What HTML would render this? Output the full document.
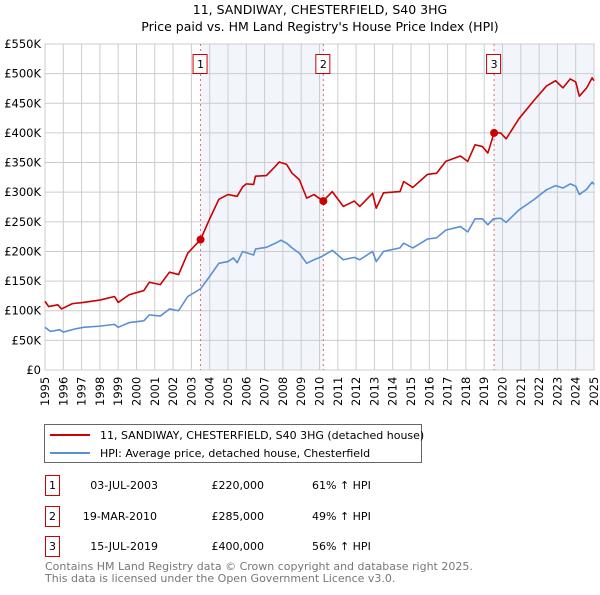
<!DOCTYPE html>
<html><head><meta charset="utf-8"><style>
body{margin:0;background:#fff;font-family:"Liberation Sans","DejaVu Sans",sans-serif}
svg text{font-family:"DejaVu Sans","Liberation Sans",sans-serif}
</style></head><body>
<svg id="chart" width="600" height="590" xmlns="http://www.w3.org/2000/svg">
<text x="320" y="14" text-anchor="middle" font-size="12.5">11, SANDIWAY, CHESTERFIELD, S40 3HG</text>
<text x="320" y="31" text-anchor="middle" font-size="12.5">Price paid vs. HM Land Registry's House Price Index (HPI)</text>
<g id="plot"></g>
<g>
<rect x="44.5" y="424.5" width="377" height="38" fill="#fff" stroke="#666"/>
<line x1="50" y1="435" x2="90" y2="435" stroke="#cc0000" stroke-width="2"/>
<text x="100" y="439" font-size="11">11, SANDIWAY, CHESTERFIELD, S40 3HG (detached house)</text>
<line x1="50" y1="453" x2="90" y2="453" stroke="#5b8fd4" stroke-width="2"/>
<text x="100" y="457" font-size="11">HPI: Average price, detached house, Chesterfield</text>
</g>
<g font-size="11">
<rect x="45.5" y="475.5" width="14" height="20" fill="#fff" stroke="#cc0000"/><text x="52.5" y="489" text-anchor="middle">1</text>
<text x="158" y="489" text-anchor="end">03-JUL-2003</text><text x="264" y="489" text-anchor="end">£220,000</text><text x="312" y="489">61% ↑ HPI</text>
<rect x="45.5" y="506.5" width="14" height="20" fill="#fff" stroke="#cc0000"/><text x="52.5" y="520" text-anchor="middle">2</text>
<text x="157" y="520" text-anchor="end">19-MAR-2010</text><text x="264" y="520" text-anchor="end">£285,000</text><text x="312" y="520">49% ↑ HPI</text>
<rect x="45.5" y="536.5" width="14" height="20" fill="#fff" stroke="#cc0000"/><text x="52.5" y="550" text-anchor="middle">3</text>
<text x="158" y="550" text-anchor="end">15-JUL-2019</text><text x="264" y="550" text-anchor="end">£400,000</text><text x="312" y="550">56% ↑ HPI</text>
</g>
<g font-size="11" fill="#777">
<text x="45" y="570">Contains HM Land Registry data © Crown copyright and database right 2025.</text>
<text x="45" y="582">This data is licensed under the Open Government Licence v3.0.</text>
</g>
</svg>
<script>
const hpiYears=[1995,1995.3,1995.8,1996,1996.6,1997.1,1998,1998.8,1999,1999.6,2000.4,2000.7,2001.3,2001.8,2002.3,2002.8,2003.5,2004,2004.5,2005,2005.3,2005.5,2005.8,2006.4,2006.5,2007.1,2007.6,2007.9,2008.2,2008.5,2008.9,2009.3,2009.7,2010.1,2010.7,2011.3,2011.9,2012.2,2012.9,2013.1,2013.5,2014.4,2014.6,2015.1,2015.9,2016.4,2016.9,2017.7,2018.1,2018.5,2018.9,2019.2,2019.5,2019.9,2020.2,2020.9,2021.7,2022.4,2022.9,2023.3,2023.7,2024,2024.2,2024.6,2024.9,2025];
const hpiValues=[72,65,68,64,69,72,74,77,72,80,83,93,91,103,100,124,137,158,180,183,189,181,200,194,204,207,214,219,214,206,197,180,186,191,202,186,190,186,200,183,200,206,214,206,221,223,236,242,233,255,255,245,255,256,249,270,287,304,311,307,314,310,296,305,317,313];
const priceYears=[1995,1995.2,1995.7,1995.9,1996.5,1997.1,1998,1998.8,1999,1999.6,2000.4,2000.7,2001.3,2001.8,2002.3,2002.8,2003.5,2004,2004.5,2005,2005.5,2005.8,2006,2006.4,2006.5,2007.1,2007.6,2007.8,2008.2,2008.5,2008.9,2009.3,2009.7,2010.2,2010.7,2011.3,2011.9,2012.2,2012.9,2013.1,2013.5,2014.4,2014.6,2015.1,2015.9,2016.4,2016.9,2017.7,2018.1,2018.5,2018.9,2019.2,2019.54,2019.9,2020.2,2020.9,2021.7,2022.4,2022.9,2023.3,2023.7,2024,2024.2,2024.6,2024.9,2025];
const priceValues=[116,107,110,103,112,114,118,124,114,127,134,148,144,165,161,197,220,255,288,296,293,309,314,313,327,328,344,351,347,332,321,290,296,285,301,276,285,276,298,273,299,301,318,308,330,332,352,361,352,380,377,366,400,400,390,424,454,479,488,476,491,486,462,476,493,488];
const saleYears=[2003.5,2010.21,2019.54];
const saleValues=[220,285,400];
const saleLabels=["1","2","3"];
const yTicks=[0,50,100,150,200,250,300,350,400,450,500,550];
const yTickLabels=["£0","£50K","£100K","£150K","£200K","£250K","£300K","£350K","£400K","£450K","£500K","£550K"];
const xTicks=[1995,1996,1997,1998,1999,2000,2001,2002,2003,2004,2005,2006,2007,2008,2009,2010,2011,2012,2013,2014,2015,2016,2017,2018,2019,2020,2021,2022,2023,2024,2025];

const NS="http://www.w3.org/2000/svg";
const L=45,R=594,T=44,B=370;
const sx=y=>L+(y-1995)/30*(R-L);
const sy=v=>B-v/550*(B-T);
const g=document.getElementById('plot');
function mk(tag,attrs,parent){const e=document.createElementNS(NS,tag);for(const k in attrs)e.setAttribute(k,attrs[k]);(parent||g).appendChild(e);return e;}
// shaded ownership periods
for(let i=0;i<saleYears.length;i++){
  const x1=sx(saleYears[i]),x2=i+1<saleYears.length?sx(saleYears[i+1]):R;
  if(i===1)continue;
  const r=mk('rect',{x:x1,y:T,width:x2-x1,height:B-T,fill:'#edf2fb',opacity:0.7});
  
  
}
// grid
yTicks.forEach((v,i)=>{
  const l=mk('line',{x1:L,x2:R,y1:sy(v),y2:sy(v),stroke:'#ccc'});
  
  
  const t=mk('text',{x:L-4,y:sy(v)+4,'text-anchor':'end','font-size':11.5});
  t.textContent=yTickLabels[i];
  
  
});
xTicks.forEach(y=>{
  const l=mk('line',{x1:sx(y),x2:sx(y),y1:T,y2:B,stroke:'#ccc'});
  
  
  const t=mk('text',{x:0,y:0,'font-size':11.5,transform:`translate(${sx(y)+4},${B+36}) rotate(-90)`});
  t.textContent=y;
  
  
});
mk('rect',{x:L,y:T,width:R-L,height:B-T,fill:'none',stroke:'#ccc'});
// sale vlines
saleYears.forEach((y,i)=>{
  const l=mk('line',{x1:sx(y),x2:sx(y),y1:T,y2:B,stroke:'#e66','stroke-dasharray':'2,3'});
  
  
  const r=mk('rect',{x:sx(y)-7.5,y:54.5,width:14,height:19,fill:'#fff',stroke:'#cc0000'});
  
  
  const t=mk('text',{x:sx(y),y:68,'text-anchor':'middle','font-size':11});
  t.textContent=saleLabels[i];
  
  
});
function line(xs,vs,color,name){
  const p=mk('polyline',{points:xs.map((x,i)=>sx(x)+','+sy(vs[i])).join(' '),fill:'none',stroke:color,'stroke-width':1.6,'stroke-linejoin':'round'});
  
  
}
line(hpiYears,hpiValues,'#5b8fd4','hpi-line');
line(priceYears,priceValues,'#cc0000','price-line');
saleYears.forEach((y,i)=>{
  const c=mk('circle',{cx:sx(y),cy:sy(saleValues[i]),r:4,fill:'#cc0000'});
  
  
});
</script>
</body></html>
